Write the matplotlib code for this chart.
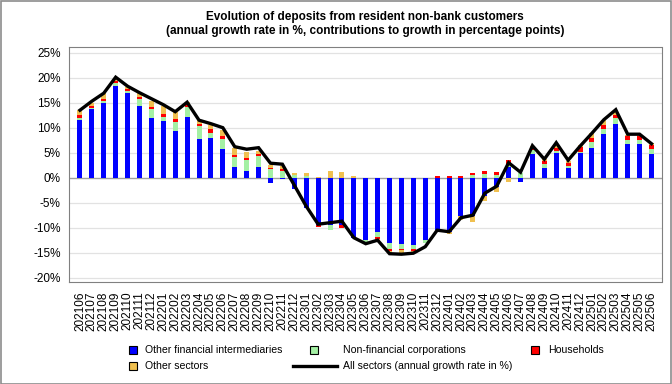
import numpy as np
import matplotlib.pyplot as plt
from matplotlib.patches import Rectangle
from matplotlib.lines import Line2D

plt.rcParams['font.family'] = ['Liberation Sans', 'DejaVu Sans']

months = [
    "202106", "202107", "202108", "202109", "202110", "202111", "202112",
    "202201", "202202", "202203", "202204", "202205", "202206", "202207",
    "202208", "202209", "202210", "202211", "202212",
    "202301", "202302", "202303", "202304", "202305", "202306", "202307",
    "202308", "202309", "202310", "202311", "202312",
    "202401", "202402", "202403", "202404", "202405", "202406", "202407",
    "202408", "202409", "202410", "202411", "202412",
    "202501", "202502", "202503", "202504", "202505", "202506",
]

# contributions in percentage points
ofi = [
    11.6, 13.7, 14.9, 18.4, 16.9, 14.4, 11.9,
    11.4, 9.3, 12.1, 7.8, 8.0, 5.8, 2.2,
    1.3, 2.2, -1.0, -0.3, -2.3,
    -6.0, -9.5, -9.5, -9.5, -12.1, -12.5, -10.8,
    -13.0, -13.3, -13.5, -12.5, -10.5,
    -10.8, -7.7, -7.7, -3.7, -1.9, 2.2, -0.9,
    4.7, 1.9, 4.9, 1.9, 4.9,
    6.0, 8.7, 10.8, 6.7, 6.7, 4.7,
]
nfc = [
    0.4, 0.3, 0.4, 0.6, 0.5, 1.3, 1.8,
    0.7, 1.9, 2.1, 2.5, 1.0, 2.0, 1.9,
    2.2, 2.1, 1.7, 1.4, 0.5,
    0.3, 0.0, -1.0, 0.0, 0.0, -0.5, -1.1,
    -1.3, -1.0, -0.8, -0.5, 0.0,
    0.0, 0.0, 0.5, 0.7, 0.6, 0.3, 0.9,
    0.8, 0.8, 0.4, 0.4, 0.3,
    1.1, 1.0, 1.1, 0.8, 0.8, 1.0,
]
households = [
    0.6, 0.4, 0.4, 0.4, 0.3, 0.5, 0.5,
    0.6, 0.5, 0.6, 0.5, 0.7, 0.6, 0.4,
    0.5, 0.4, 0.3, 0.3, 0.0,
    0.0, -0.3, 0.0, -0.6, 0.0, 0.0, -0.3,
    -0.3, -0.2, -0.3, 0.0, 0.3,
    0.3, 0.3, 0.5, 0.6, 0.5, 1.0, 0.1,
    0.6, 0.7, 0.7, 0.7, 0.9,
    0.8, 0.8, 0.6, 0.8, 0.8, 0.8,
]
other = [
    0.9, 0.5, 1.2, 0.6, 0.4, 0.7, 1.2,
    1.6, 1.5, 0.3, 0.7, 0.8, 1.1, 1.4,
    1.2, 0.6, 0.5, 0.6, 0.5,
    0.7, 0.2, 1.3, 1.2, 0.3, 0.0, -0.4,
    -0.4, -0.5, -0.3, 0.0, 0.0,
    -0.5, -0.8, -1.1, -1.0, -1.0, -0.9, 0.0,
    0.3, 0.3, 0.3, 0.4, 0.4,
    1.1, 1.0, 0.9, 0.2, 0.2, 0.4,
]
# annual growth rate in %
total = [
    13.5, 15.3, 16.9, 20.1, 18.3, 17.0, 15.8,
    14.6, 13.2, 15.1, 11.5, 10.8, 10.0, 6.2,
    5.7, 6.0, 2.9, 2.7, -1.5,
    -5.7, -9.3, -9.0, -8.7, -12.0, -13.2, -12.5,
    -15.2, -15.3, -15.1, -13.8, -10.5,
    -10.8, -8.0, -7.5, -3.1, -1.7, 3.0, 1.1,
    6.4, 3.7, 7.0, 3.5, 6.3,
    8.9, 11.6, 13.6, 8.7, 8.7, 6.8,
]

series = [
    ("Other financial intermediaries", ofi, "#0000ff"),
    ("Non-financial corporations", nfc, "#a4f0a4"),
    ("Households", households, "#ff0000"),
    ("Other sectors", other, "#f0c050"),
]

W, H = 672, 384
fig = plt.figure(figsize=(W / 100, H / 100), dpi=100)
ax = fig.add_axes([69 / W, 1 - 282 / H, (661.5 - 69) / W, (282 - 47) / H])

x = np.arange(len(months))
pos_base = np.zeros(len(months))
neg_base = np.zeros(len(months))
for name, vals, color in series:
    v = np.array(vals)
    bottom = np.where(v >= 0, pos_base, neg_base)
    ax.bar(x, v, 0.42, bottom=bottom, color=color, linewidth=0, zorder=2)
    pos_base += np.clip(v, 0, None)
    neg_base += np.clip(v, None, 0)

ax.plot(x, total, color="black", lw=2.4, zorder=3, solid_joinstyle="miter")

ax.set_xlim(-0.92, 48.84)
ax.set_ylim(-20.86, 26.14)
yt = np.arange(-20, 26, 5)
ax.set_yticks(yt)
ax.set_yticklabels([f"{t}%" for t in yt])
ax.set_xticks(x)
ax.set_xticklabels(months, rotation=90)
ax.tick_params(axis="both", length=0, labelsize=8.5)
ax.tick_params(axis="y", pad=6)
ax.tick_params(axis="x", pad=7)
for t in yt:
    if t != 0:
        ax.axhline(t, color="#e2e2e2", lw=0.9, zorder=1)
ax.axhline(0, color="#a0a0a0", lw=1.0, zorder=1)
for s in ax.spines.values():
    s.set_color("#808080")
    s.set_linewidth(0.8)

fig.text(365 / W, 1 - 17 / H,
         "Evolution of deposits from resident non-bank customers",
         ha="center", va="center", fontsize=8.5, fontweight="bold")
fig.text(365 / W, 1 - 31 / H,
         "(annual growth rate in %, contributions to growth in percentage points)",
         ha="center", va="center", fontsize=8.5, fontweight="bold")

# legend drawn by hand to match the original layout
def add_patch(px, py, color):
    fig.add_artist(Rectangle((px / W, 1 - (py + 4) / H), 8 / W, 8 / H,
                             facecolor=color, edgecolor="black", lw=0.8,
                             transform=fig.transFigure))

leg_fs = 7.6
add_patch(129, 350, series[0][2])
fig.text(145 / W, 1 - 350 / H, series[0][0], va="center", fontsize=leg_fs)
add_patch(310, 350, series[1][2])
fig.text(343 / W, 1 - 350 / H, series[1][0], va="center", fontsize=leg_fs)
add_patch(531, 350, series[2][2])
fig.text(548 / W, 1 - 350 / H, series[2][0], va="center", fontsize=leg_fs)
add_patch(129, 366, series[3][2])
fig.text(145 / W, 1 - 366 / H, series[3][0], va="center", fontsize=leg_fs)
fig.add_artist(Line2D([293 / W, 337 / W], [1 - 366 / H, 1 - 366 / H],
                      color="black", lw=2.4, transform=fig.transFigure))
fig.text(343 / W, 1 - 366 / H, "All sectors (annual growth rate in %)",
         va="center", fontsize=leg_fs)

# outer frame of the picture
fig.add_artist(Rectangle((0.5 / W, 0.5 / H), 1 - 1.5 / W, 1 - 1.5 / H,
                         fill=False, edgecolor="#8c8c8c", lw=1.2,
                         transform=fig.transFigure))

fig.savefig("out.png", dpi=100)
